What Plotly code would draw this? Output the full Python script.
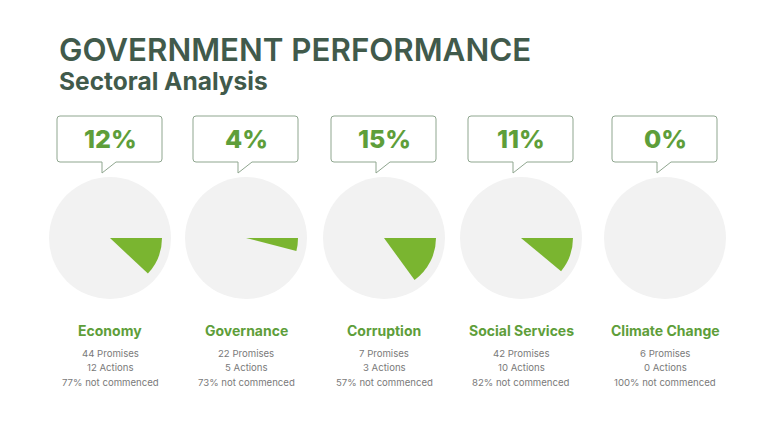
import plotly.graph_objects as go

W, H = 768, 432

categories = ["Economy", "Governance", "Corruption", "Social Services", "Climate Change"]
percents = [12, 4, 15, 11, 0]
promises = [44, 22, 7, 42, 6]
actions = [12, 5, 3, 10, 0]
not_commenced = [77, 73, 57, 82, 100]

# panel centres in pixels
centers = [110, 246, 384, 521, 665]
cy = 238
r_bg = 61
r_wedge = 52

GREEN = "#7ab530"
TXT_GREEN = "#5e9e3a"
GREY_BG = "#f2f2f2"
TITLE = "#415a4b"

OFF = 8  # page body margin


def X(px):
    return (px - OFF) / W


def Y(py):
    return 1 - (py - OFF) / H


fig = go.Figure()
shapes = []
annotations = []

for i, cat in enumerate(categories):
    cx = centers[i]
    # background circle
    fig.add_trace(go.Pie(
        values=[1], marker=dict(colors=[GREY_BG], line=dict(width=0)),
        domain=dict(x=[X(cx - r_bg), X(cx + r_bg)], y=[Y(cy + r_bg), Y(cy - r_bg)]),
        textinfo="none", hoverinfo="skip", showlegend=False, sort=False,
    ))
    # green wedge
    fig.add_trace(go.Pie(
        values=[percents[i], 100 - percents[i]],
        marker=dict(colors=[GREEN, "rgba(0,0,0,0)"], line=dict(width=0)),
        domain=dict(x=[X(cx - r_wedge), X(cx + r_wedge)], y=[Y(cy + r_wedge), Y(cy - r_wedge)]),
        textinfo="none", hoverinfo="skip", showlegend=False, sort=False,
        direction="clockwise", rotation=90,
    ))

    # speech bubble
    l, r, t, b = cx - 53, cx + 52, 116, 162
    rad = 3
    nl, nr, tip = cx - 8, cx + 6, 173
    pts = [
        f"M {X(l + rad)},{Y(t)}",
        f"L {X(r - rad)},{Y(t)}",
        f"Q {X(r)},{Y(t)} {X(r)},{Y(t + rad)}",
        f"L {X(r)},{Y(b - rad)}",
        f"Q {X(r)},{Y(b)} {X(r - rad)},{Y(b)}",
        f"L {X(nr)},{Y(b)}",
        f"L {X(nl)},{Y(tip)}",
        f"L {X(nl)},{Y(b)}",
        f"L {X(l + rad)},{Y(b)}",
        f"Q {X(l)},{Y(b)} {X(l)},{Y(b - rad)}",
        f"L {X(l)},{Y(t + rad)}",
        f"Q {X(l)},{Y(t)} {X(l + rad)},{Y(t)}",
        "Z",
    ]
    shapes.append(dict(type="path", xref="paper", yref="paper", path=" ".join(pts),
                       line=dict(color="#8fa68f", width=1), fillcolor="white"))

    annotations.append(dict(x=X(cx), y=Y(139), text=f"{percents[i]}%", showarrow=False,
                            xanchor="center", yanchor="middle",
                            font=dict(family="Inter", size=25, color=TXT_GREEN, weight=800)))
    annotations.append(dict(x=X(cx), y=Y(330), text=cat, showarrow=False,
                            xanchor="center", yanchor="middle",
                            font=dict(family="Inter", size=14, color=TXT_GREEN, weight=700)))
    lines = [f"{promises[i]} Promises", f"{actions[i]} Actions", f"{not_commenced[i]}% not commenced"]
    for j, line in enumerate(lines):
        annotations.append(dict(x=X(cx), y=Y(353 + 14.5 * j), text=line, showarrow=False,
                                xanchor="center", yanchor="middle",
                                font=dict(family="Inter", size=9.6, color="#7a7a7a")))

annotations.append(dict(x=X(57), y=Y(50), text="GOVERNMENT PERFORMANCE", showarrow=False,
                        xanchor="left", yanchor="middle",
                        font=dict(family="Inter", size=31.3, color=TITLE, weight=600)))
annotations.append(dict(x=X(57), y=Y(81), text="Sectoral Analysis", showarrow=False,
                        xanchor="left", yanchor="middle",
                        font=dict(family="Inter", size=24.5, color=TITLE, weight=700)))

fig.update_layout(
    width=W, height=H,
    margin=dict(l=0, r=0, t=0, b=0),
    paper_bgcolor="white", plot_bgcolor="white",
    shapes=shapes, annotations=annotations,
)

fig.write_html("out.html")
